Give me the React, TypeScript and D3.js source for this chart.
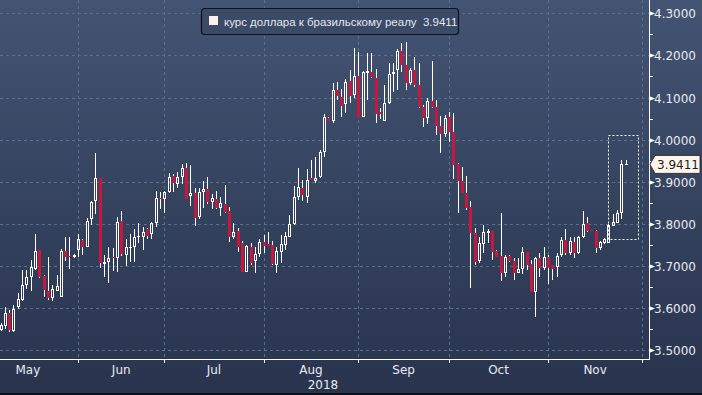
import * as d3 from "d3";

// USD/BRL daily candles, May–Nov 2018 (one entry per trading day)
const opens = [
  3.548, 3.557, 3.589, 3.546, 3.602, 3.619, 3.655, 3.674, 3.693, 3.738,
  3.676, 3.641, 3.624, 3.641, 3.625, 3.736, 3.724, 3.720, 3.738, 3.762,
  3.744, 3.811, 3.853, 3.909, 3.704, 3.709, 3.720, 3.718, 3.807, 3.726,
  3.744, 3.744, 3.768, 3.768, 3.788, 3.775, 3.801, 3.861, 3.858, 3.875,
  3.914, 3.895, 3.912, 3.932, 3.867, 3.872, 3.815, 3.875, 3.882, 3.851,
  3.859, 3.837, 3.846, 3.830, 3.769, 3.783, 3.754, 3.686, 3.746, 3.712,
  3.728, 3.756, 3.751, 3.750, 3.702, 3.734, 3.750, 3.769, 3.800, 3.864,
  3.884, 3.864, 3.908, 3.902, 3.910, 3.971, 4.051, 4.045, 4.118, 4.102,
  4.084, 4.139, 4.106, 4.151, 4.054, 4.159, 4.161, 4.146, 4.066, 4.045,
  4.086, 4.155, 4.165, 4.210, 4.177, 4.134, 4.165, 4.130, 4.078, 4.051,
  4.092, 4.077, 4.033, 4.013, 4.053, 4.019, 3.942, 3.902, 3.874, 3.841,
  3.777, 3.712, 3.753, 3.777, 3.783, 3.735, 3.724, 3.684, 3.724, 3.712,
  3.684, 3.692, 3.732, 3.705, 3.639, 3.718, 3.696, 3.720, 3.701, 3.698,
  3.726, 3.762, 3.730, 3.756, 3.730, 3.768, 3.801, 3.785, 3.783, 3.742,
  3.755, 3.755, 3.795, 3.803, 3.826, 3.941,
];
const highs = [
  3.564, 3.603, 3.595, 3.607, 3.636, 3.690, 3.690, 3.714, 3.776, 3.738,
  3.678, 3.721, 3.655, 3.678, 3.740, 3.769, 3.769, 3.728, 3.776, 3.764,
  3.814, 3.855, 3.967, 3.909, 3.726, 3.745, 3.742, 3.815, 3.830, 3.765,
  3.776, 3.788, 3.802, 3.792, 3.789, 3.805, 3.878, 3.876, 3.878, 3.920,
  3.918, 3.922, 3.942, 3.944, 3.940, 3.884, 3.884, 3.902, 3.910, 3.870,
  3.878, 3.863, 3.892, 3.839, 3.801, 3.789, 3.758, 3.750, 3.754, 3.746,
  3.763, 3.773, 3.780, 3.758, 3.746, 3.773, 3.781, 3.821, 3.890, 3.932,
  3.904, 3.930, 3.951, 3.959, 3.975, 4.061, 4.054, 4.134, 4.138, 4.120,
  4.143, 4.165, 4.217, 4.209, 4.163, 4.205, 4.205, 4.167, 4.074, 4.130,
  4.183, 4.181, 4.215, 4.229, 4.231, 4.169, 4.197, 4.181, 4.082, 4.098,
  4.187, 4.094, 4.056, 4.058, 4.066, 4.062, 3.945, 3.934, 3.913, 3.853,
  3.789, 3.768, 3.797, 3.787, 3.784, 3.738, 3.825, 3.726, 3.726, 3.718,
  3.718, 3.746, 3.734, 3.714, 3.722, 3.731, 3.746, 3.726, 3.702, 3.730,
  3.768, 3.787, 3.769, 3.769, 3.771, 3.831, 3.817, 3.786, 3.785, 3.760,
  3.766, 3.800, 3.823, 3.833, 3.951, 3.951,
];
const lows = [
  3.545, 3.550, 3.543, 3.543, 3.598, 3.617, 3.645, 3.640, 3.690, 3.671,
  3.627, 3.619, 3.617, 3.641, 3.625, 3.712, 3.693, 3.719, 3.721, 3.726,
  3.744, 3.797, 3.823, 3.696, 3.673, 3.659, 3.689, 3.686, 3.724, 3.700,
  3.709, 3.709, 3.755, 3.738, 3.763, 3.763, 3.792, 3.835, 3.825, 3.872,
  3.875, 3.884, 3.895, 3.859, 3.842, 3.795, 3.811, 3.838, 3.846, 3.835,
  3.835, 3.819, 3.825, 3.757, 3.763, 3.732, 3.686, 3.686, 3.702, 3.682,
  3.722, 3.730, 3.748, 3.702, 3.682, 3.706, 3.738, 3.768, 3.797, 3.857,
  3.855, 3.850, 3.904, 3.897, 3.908, 3.959, 4.043, 4.039, 4.094, 4.053,
  4.063, 4.086, 4.098, 4.052, 4.054, 4.094, 4.146, 4.040, 4.048, 4.043,
  4.085, 4.114, 4.118, 4.161, 4.118, 4.130, 4.126, 4.074, 4.031, 4.037,
  4.074, 4.011, 3.969, 4.007, 3.995, 3.906, 3.825, 3.872, 3.833, 3.647,
  3.702, 3.706, 3.730, 3.755, 3.714, 3.721, 3.663, 3.673, 3.709, 3.667,
  3.682, 3.681, 3.690, 3.639, 3.579, 3.674, 3.690, 3.657, 3.667, 3.674,
  3.722, 3.726, 3.726, 3.718, 3.728, 3.766, 3.781, 3.783, 3.730, 3.738,
  3.752, 3.754, 3.795, 3.801, 3.811, 3.941,
];
const closes = [
  3.560, 3.589, 3.548, 3.598, 3.621, 3.655, 3.674, 3.697, 3.736, 3.674,
  3.643, 3.623, 3.645, 3.652, 3.736, 3.722, 3.720, 3.727, 3.764, 3.745,
  3.807, 3.852, 3.908, 3.707, 3.709, 3.718, 3.718, 3.805, 3.728, 3.744,
  3.746, 3.769, 3.771, 3.780, 3.772, 3.801, 3.861, 3.858, 3.875, 3.910,
  3.896, 3.912, 3.932, 3.859, 3.872, 3.813, 3.875, 3.882, 3.851, 3.861,
  3.837, 3.849, 3.829, 3.768, 3.781, 3.746, 3.686, 3.747, 3.708, 3.728,
  3.756, 3.748, 3.748, 3.705, 3.735, 3.751, 3.772, 3.800, 3.864, 3.887,
  3.868, 3.904, 3.904, 3.908, 3.971, 4.053, 4.045, 4.118, 4.104, 4.080,
  4.138, 4.104, 4.151, 4.052, 4.161, 4.163, 4.148, 4.060, 4.061, 4.088,
  4.157, 4.161, 4.210, 4.177, 4.135, 4.165, 4.130, 4.078, 4.051, 4.092,
  4.077, 4.033, 4.013, 4.051, 4.019, 3.940, 3.902, 3.874, 3.837, 3.777,
  3.710, 3.755, 3.780, 3.783, 3.734, 3.722, 3.684, 3.722, 3.712, 3.684,
  3.692, 3.732, 3.702, 3.639, 3.718, 3.694, 3.720, 3.694, 3.693, 3.724,
  3.762, 3.730, 3.760, 3.730, 3.768, 3.800, 3.783, 3.783, 3.742, 3.756,
  3.763, 3.796, 3.805, 3.826, 3.942, 3.9411,
];

const monthLabels = ["May", "Jun", "Jul", "Aug", "Sep", "Oct", "Nov"];
// candle index at which each month begins (last entry = start of Dec)
const monthStarts = [-5.3, 18, 38, 61, 83, 104, 127, 148.8];
const yearLabel = "2018";
const seriesName = "курс доллара к бразильскому реалу";
// dotted highlight box around the latest move
const boxIndex = [141, 148];
const boxValue = [3.764, 4.011];

const FONT = "'DejaVu Sans', Verdana, sans-serif";
const LEGEND_FONT = "'Liberation Sans', Arial, sans-serif";
const RED = "#c8173f";
const GRID = "#58708f";

export default function App() {
  const width = 702;
  const height = 395;
  const axisX = 649;
  const axisY = 359;

  const x = d3.scaleLinear().domain([0, opens.length - 1]).range([0.5, 625.7]);
  const y = d3.scaleLinear().domain([3.5, 4.3]).range([350.1, 13.3]);
  const fmt = d3.format(".4f");

  const majorTicks = y.ticks(8);
  const minorTicks = y.ticks(16).filter((t) => !majorTicks.some((m) => Math.abs(m - t) < 1e-9));
  const snap = (v: number) => Math.round(v) + 0.5;

  const last = closes[closes.length - 1];
  const lastY = y(last);

  return (
    <svg
      width={width}
      height={height}
      style={{ position: "absolute", left: 0, top: 0, display: "block" }}
      fontFamily={FONT}
    >
      <defs>
        <linearGradient id="bg" x1="0" y1="0" x2="0" y2="1">
          <stop offset="0%" stopColor="#435473" />
          <stop offset="50%" stopColor="#35435f" />
          <stop offset="100%" stopColor="#29334e" />
        </linearGradient>
      </defs>
      <rect x={0} y={0} width={width} height={height} fill="url(#bg)" />
      <rect x={0} y={393} width={width} height={2} fill="#0b0f18" />

      {/* grid */}
      {majorTicks.map((t) => (
        <line
          key={"hg" + t}
          x1={0}
          x2={axisX}
          y1={snap(y(t))}
          y2={snap(y(t))}
          stroke={GRID}
          strokeDasharray="3,3"
        />
      ))}
      {monthStarts.slice(1).map((m) => (
        <line
          key={"vg" + m}
          x1={snap(x(m))}
          x2={snap(x(m))}
          y1={0}
          y2={axisY}
          stroke={GRID}
          strokeDasharray="3,3"
        />
      ))}

      {/* candles */}
      {opens.map((o, i) => {
        const c = closes[i];
        const cx = snap(x(i));
        const top = Math.round(y(Math.max(o, c)));
        const bot = Math.max(top + 1, Math.round(y(Math.min(o, c))));
        const hi = Math.round(y(highs[i]));
        const lo = Math.round(y(lows[i]));
        const up = c >= o;
        return (
          <g key={"c" + i}>
            {hi < top && <line x1={cx} x2={cx} y1={hi} y2={top} stroke="#fff" />}
            {lo > bot && <line x1={cx} x2={cx} y1={bot} y2={lo} stroke="#fff" />}
            {up ? (
              <rect
                x={cx - 1}
                y={top + 0.5}
                width={2}
                height={Math.max(0.01, bot - top - 1)}
                fill="none"
                stroke="#fff"
              />
            ) : (
              <rect x={cx - 1.5} y={top} width={3} height={bot - top} fill={RED} />
            )}
          </g>
        );
      })}

      {/* highlight box */}
      <rect
        x={snap(x(boxIndex[0]))}
        y={snap(y(boxValue[1]))}
        width={Math.round(x(boxIndex[1]) - x(boxIndex[0]))}
        height={Math.round(y(boxValue[0]) - y(boxValue[1]))}
        fill="none"
        stroke="#fff"
        strokeDasharray="2,2"
      />

      {/* x axis */}
      <line x1={0} x2={axisX + 0.5} y1={axisY + 0.5} y2={axisY + 0.5} stroke="#fff" />
      {monthStarts.slice(1).map((m) => (
        <line
          key={"xt" + m}
          x1={snap(x(m))}
          x2={snap(x(m))}
          y1={axisY}
          y2={axisY + 4}
          stroke="#fff"
        />
      ))}
      {monthLabels.map((lab, i) => (
        <text
          key={lab}
          x={(x(monthStarts[i]) + x(monthStarts[i + 1])) / 2}
          y={374}
          fill="#e8ebf0"
          fontSize={12}
          textAnchor="middle"
        >
          {lab}
        </text>
      ))}
      <text x={323} y={389} fill="#e8ebf0" fontSize={12} textAnchor="middle">
        {yearLabel}
      </text>

      {/* y axis */}
      <line x1={axisX + 0.5} x2={axisX + 0.5} y1={0} y2={axisY + 1} stroke="#fff" />
      {minorTicks.map((t) => (
        <line
          key={"mt" + t}
          x1={axisX}
          x2={axisX + 4}
          y1={snap(y(t))}
          y2={snap(y(t))}
          stroke="#fff"
        />
      ))}
      {majorTicks.map((t) => {
        const ty = snap(y(t));
        return (
          <g key={"yt" + t}>
            <path d={`M${axisX},${ty - 2.5}L${axisX + 6},${ty}L${axisX},${ty + 2.5}Z`} fill="#fff" />
            <text x={axisX + 5} y={ty + 4.5} fill="#e8ebf0" fontSize={12}>
              {fmt(t)}
            </text>
          </g>
        );
      })}

      {/* last value tag */}
      <path
        d={`M${axisX + 1},${lastY}L${axisX + 6},${lastY - 9}H700V${lastY + 9}H${axisX + 6}Z`}
        fill="#fdf5ec"
        stroke="#1a1a1a"
        strokeWidth={0.8}
      />
      <text x={axisX + 8} y={lastY + 4.5} fill="#1c1c1c" fontSize={12}>
        {fmt(last)}
      </text>

      {/* legend */}
      <rect x={201.5} y={8.5} width={257} height={26} rx={3} fill="#3a4a67" stroke="#0e1220" strokeWidth={1.2} />
      <rect x={209} y={16} width={9} height={9} fill="#fdf0ea" />
      <text x={224} y={26} fill="#e6e8ec" fontSize={11.5} fontFamily={LEGEND_FONT} xmlSpace="preserve">
        {seriesName + "  " + fmt(last)}
      </text>
    </svg>
  );
}
